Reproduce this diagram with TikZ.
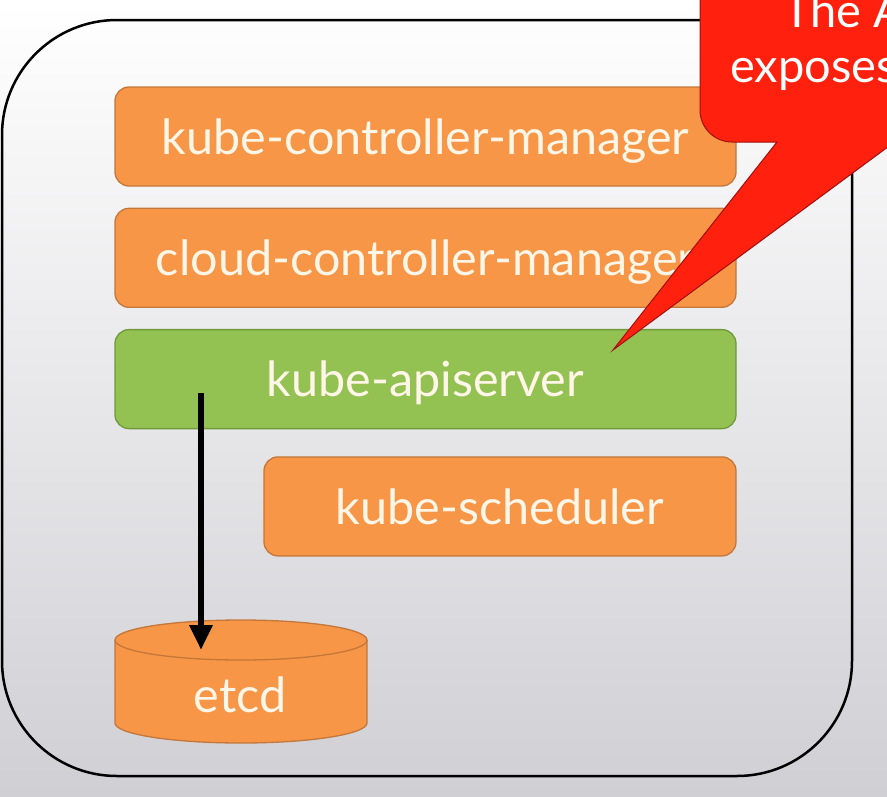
\documentclass[tikz,border=0pt]{standalone}
\usepackage{fontspec}
\setmainfont{Lato}
\usetikzlibrary{positioning,calc,arrows.meta}
\definecolor{boxorange}{HTML}{F79646}
\definecolor{orangeline}{HTML}{C4773A}
\definecolor{apigreen}{HTML}{93C152}
\definecolor{greenline}{HTML}{6E9A3A}
\definecolor{textcream}{HTML}{FFF6E8}
\definecolor{callred}{HTML}{FF200E}
\definecolor{callline}{HTML}{A01010}
\definecolor{bgmid}{HTML}{F6F6F7}
\definecolor{bgbottom}{HTML}{D0CFD4}

\begin{document}
\begin{tikzpicture}[x=1pt,y=-1pt,
	comp/.style={draw=orangeline,fill=boxorange,line width=1.3pt,rounded corners=14pt,
		minimum height=99pt,inner sep=0pt,text depth=0pt,text=textcream,font=\fontsize{48.5}{54}\selectfont},
	apibox/.style={comp,draw=greenline,fill=apigreen},
	callout/.style={draw=callline,fill=callred,line width=1pt},
	calltext/.style={text=white,inner sep=0pt,font=\fontsize{47}{54}\selectfont}]
	\useasboundingbox (0,0) rectangle (887,796);
	\clip (0,0) rectangle (887,796);
	\shade[top color=white,middle color=bgmid,bottom color=bgbottom] (0,0) rectangle (887,796);
	\draw[line width=2.5pt,rounded corners=115pt] (2,20) rectangle (852,776);
	%control plane
	\node[comp,minimum width=621pt] (kcm) at (425.5,136.5) {kube-controller-manager};
	\node[comp,minimum width=621pt,below=21pt of kcm] (ccm) {cloud-controller-manager};
	\node[apibox,minimum width=621pt,below=21pt of ccm] (api) {kube-apiserver};
	\node[comp,minimum width=472pt,below=27pt of api.south east,anchor=north east] (sched) {kube-scheduler};
	%etcd
	\path[fill=boxorange,draw=orangeline,line width=1.3pt] (115,640) -- (115,723)
		arc[start angle=180,end angle=360,x radius=126pt,y radius=20pt] -- (367,640)
		arc[start angle=0,end angle=180,x radius=126pt,y radius=20pt] -- cycle;
	\draw[orangeline,line width=1.3pt] (115,640) arc[start angle=180,end angle=360,x radius=126pt,y radius=20pt];
	\node[text=textcream,text depth=0pt,font=\fontsize{48.5}{54}\selectfont] (etcd) at (240,695) {etcd};
	\coordinate (astart) at (201,393);
	\coordinate (etcdtop) at (201,650);
	\draw[line width=6.5pt,-{Triangle[length=25pt,width=22pt]}] (astart) -- (etcdtop);
	%callout
	\draw[callout] (700,-40) [rounded corners=32pt]-- (700,142) [sharp corners]-- (777,142)
		-- (613,350) -- (900,138) -- (900,-40) -- cycle;
	\node[calltext,anchor=base west] (t1) at (783,27) {The A};
	\node[calltext,anchor=base west] (t2) at (730,82) {exposes};
\end{tikzpicture}
\end{document}
